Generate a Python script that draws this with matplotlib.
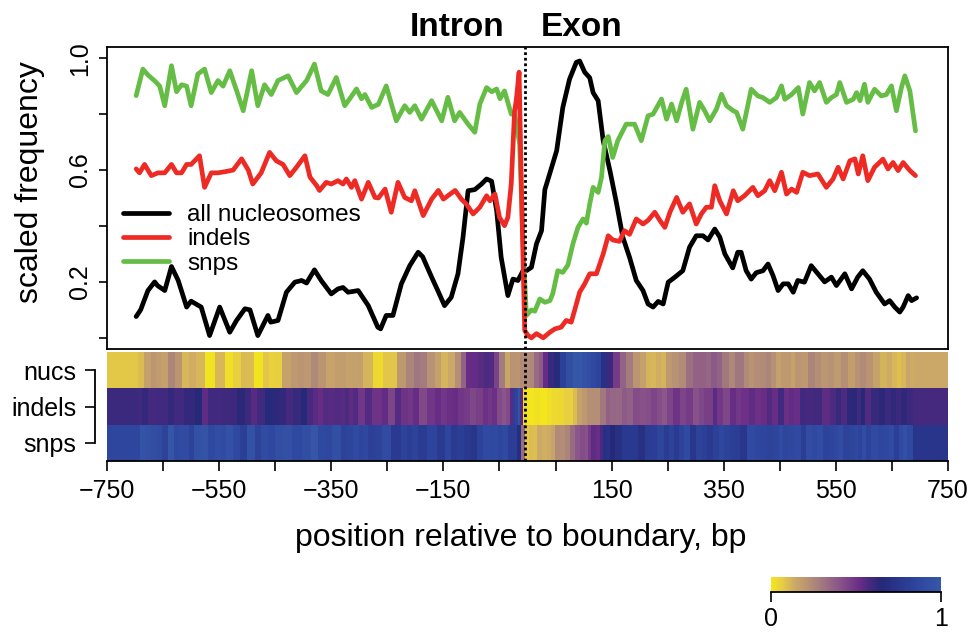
import numpy as np
import matplotlib
matplotlib.use('Agg')
import matplotlib.pyplot as plt
from matplotlib.colors import LinearSegmentedColormap

plt.rcParams['font.family'] = ['Liberation Sans', 'DejaVu Sans']

# ---------------- data ----------------
nuc_x = [-698, -690, -677, -665, -660, -647, -635, -623, -608, -600, -582, -567, -549, -531, -519, -504,
         -495, -481, -463, -458, -445, -430, -415, -403, -394, -380, -368, -350, -338, -329, -320, -302,
         -284, -267, -262, -252, -240, -225, -210, -195, -187, -171, -160, -148, -136, -124, -115, -106,
         -94, -82, -73, -64, -55, -47, -35, -26, -17, -8, -2, 7, 16, 25, 31, 43, 52, 63, 75, 87, 93, 102,
         111, 117, 126, 135, 147, 159, 170, 182, 194, 206, 215, 224, 233, 242, 251, 263, 277, 289, 301,
         313, 322, 334, 343, 352, 366, 375, 381, 390, 399, 408, 420, 429, 438, 447, 456, 465, 474, 482,
         494, 506, 518, 530, 542, 551, 566, 578, 589, 598, 610, 622, 637, 646, 655, 664, 670, 679, 685, 694]
nuc_y = [0.076, 0.10, 0.169, 0.20, 0.187, 0.169, 0.255, 0.205, 0.11, 0.131, 0.11, 0.008, 0.11, 0.02, 0.062,
         0.104, 0.10, 0.008, 0.08, 0.056, 0.062, 0.163, 0.199, 0.205, 0.196, 0.243, 0.205, 0.157, 0.175,
         0.18, 0.163, 0.169, 0.115, 0.038, 0.032, 0.08, 0.08, 0.193, 0.258, 0.306, 0.29, 0.217, 0.169,
         0.115, 0.145, 0.229, 0.36, 0.526, 0.53, 0.55, 0.568, 0.56, 0.455, 0.288, 0.151, 0.21, 0.205,
         0.24, 0.24, 0.252, 0.336, 0.383, 0.53, 0.61, 0.669, 0.824, 0.925, 0.985, 0.99, 0.95, 0.93,
         0.877, 0.848, 0.705, 0.598, 0.479, 0.36, 0.288, 0.205, 0.169, 0.121, 0.11, 0.13, 0.121, 0.199,
         0.217, 0.24, 0.324, 0.365, 0.365, 0.35, 0.389, 0.36, 0.30, 0.25, 0.306, 0.306, 0.24, 0.21, 0.233,
         0.24, 0.264, 0.222, 0.169, 0.193, 0.193, 0.163, 0.205, 0.199, 0.258, 0.229, 0.20, 0.217, 0.187,
         0.229, 0.175, 0.217, 0.24, 0.21, 0.163, 0.121, 0.133, 0.11, 0.092, 0.11, 0.151, 0.133, 0.143]

indel_x = [-698, -692, -683, -671, -659, -647, -635, -626, -617, -608, -600, -585, -576, -564, -552, -537,
           -525, -510, -498, -490, -475, -460, -448, -436, -424, -412, -397, -388, -376, -371, -359, -350,
           -338, -329, -323, -314, -308, -296, -284, -272, -266, -254, -243, -231, -219, -207, -201, -186,
           -171, -159, -150, -138, -129, -118, -109, -97, -85, -73, -67, -58, -50, -41, -35, -29, -23, -20,
           -15, -11, -5, 1, 7, 16, 28, 40, 49, 60, 69, 78, 84, 93, 102, 111, 123, 135, 144, 152, 164, 173,
           182, 194, 206, 215, 227, 236, 245, 254, 266, 277, 289, 301, 310, 319, 328, 334, 343, 355, 367,
           375, 387, 402, 411, 423, 432, 441, 453, 462, 471, 480, 491, 503, 518, 533, 545, 554, 563, 575,
           584, 590, 598, 607, 619, 634, 643, 652, 661, 670, 682, 692]
indel_y = [0.604, 0.59, 0.62, 0.58, 0.59, 0.59, 0.62, 0.59, 0.59, 0.62, 0.62, 0.651, 0.538, 0.59, 0.59,
           0.595, 0.60, 0.64, 0.60, 0.55, 0.59, 0.663, 0.633, 0.62, 0.58, 0.61, 0.651, 0.575, 0.544, 0.527,
           0.556, 0.55, 0.562, 0.55, 0.568, 0.538, 0.562, 0.496, 0.556, 0.502, 0.50, 0.532, 0.449, 0.556,
           0.502, 0.49, 0.526, 0.437, 0.496, 0.527, 0.496, 0.514, 0.527, 0.496, 0.478, 0.443, 0.467, 0.508,
           0.49, 0.514, 0.431, 0.401, 0.431, 0.55, 0.812, 0.85, 0.95, 0.55, 0.026, 0.008, 0.0, 0.015, 0.0,
           0.02, 0.032, 0.038, 0.062, 0.056, 0.098, 0.163, 0.193, 0.229, 0.229, 0.30, 0.365, 0.35, 0.345,
           0.383, 0.37, 0.425, 0.407, 0.42, 0.449, 0.42, 0.395, 0.449, 0.502, 0.449, 0.479, 0.407, 0.443,
           0.467, 0.467, 0.544, 0.49, 0.443, 0.526, 0.49, 0.508, 0.538, 0.508, 0.526, 0.562, 0.526, 0.592,
           0.514, 0.532, 0.52, 0.592, 0.58, 0.586, 0.538, 0.568, 0.61, 0.568, 0.633, 0.64, 0.586, 0.651,
           0.562, 0.61, 0.639, 0.604, 0.627, 0.598, 0.627, 0.598, 0.58]

snp_x = [-698, -686, -677, -665, -656, -647, -635, -626, -617, -608, -600, -588, -576, -564, -552, -543,
         -531, -519, -507, -492, -481, -469, -457, -445, -427, -412, -394, -380, -368, -356, -341, -326,
         -317, -305, -296, -290, -278, -266, -252, -234, -219, -210, -201, -189, -171, -153, -142, -130,
         -121, -106, -94, -85, -73, -64, -55, -49, -41, -29, -23, -14, -8, -2, 7, 13, 22, 31, 40, 45, 54,
         63, 72, 81, 90, 99, 105, 111, 117, 126, 132, 138, 144, 152, 161, 176, 191, 203, 215, 224, 239,
         248, 257, 266, 275, 283, 295, 307, 316, 325, 337, 346, 355, 367, 373, 384, 399, 411, 420, 432,
         444, 453, 459, 471, 483, 491, 503, 512, 521, 533, 542, 551, 557, 569, 581, 587, 593, 601, 607,
         619, 631, 640, 649, 658, 667, 673, 682, 692]
snp_y = [0.866, 0.961, 0.94, 0.919, 0.90, 0.83, 0.973, 0.88, 0.905, 0.90, 0.83, 0.943, 0.961, 0.877, 0.92,
         0.90, 0.955, 0.885, 0.812, 0.955, 0.83, 0.905, 0.87, 0.92, 0.937, 0.877, 0.92, 0.979, 0.883, 0.87,
         0.931, 0.83, 0.855, 0.89, 0.855, 0.87, 0.824, 0.835, 0.901, 0.776, 0.83, 0.806, 0.83, 0.782,
         0.848, 0.776, 0.86, 0.776, 0.806, 0.764, 0.735, 0.836, 0.895, 0.88, 0.89, 0.855, 0.883, 0.80,
         0.80, 0.693, 0.336, 0.08, 0.10, 0.095, 0.139, 0.127, 0.133, 0.157, 0.24, 0.234, 0.26, 0.336,
         0.395, 0.425, 0.41, 0.479, 0.538, 0.52, 0.574, 0.705, 0.72, 0.645, 0.705, 0.764, 0.764, 0.705,
         0.794, 0.80, 0.854, 0.782, 0.836, 0.776, 0.842, 0.889, 0.746, 0.842, 0.812, 0.776, 0.818, 0.871,
         0.83, 0.812, 0.806, 0.746, 0.889, 0.865, 0.859, 0.842, 0.859, 0.901, 0.853, 0.87, 0.895, 0.80,
         0.913, 0.883, 0.913, 0.842, 0.859, 0.87, 0.913, 0.842, 0.853, 0.877, 0.848, 0.907, 0.842, 0.889,
         0.865, 0.87, 0.901, 0.812, 0.895, 0.937, 0.883, 0.74]

series_labels = ['all nucleosomes', 'indels', 'snps']
row_labels = ['nucs', 'indels', 'snps']
x_ticks = list(range(-750, 751, 100))
x_ticklabels = ['−750', '', '−550', '', '−350', '', '−150', '', '', '150', '', '350', '', '550', '', '750']
y_ticks = [0.0, 0.2, 0.4, 0.6, 0.8, 1.0]
y_ticklabels = ['', '0.2', '', '0.6', '', '1.0']
boundary = -4

# ---------------- style ----------------
c_nuc, c_indel, c_snp = '#000000', '#EE2A24', '#66BD45'
cmap = LinearSegmentedColormap.from_list('ynb', [
    (0.00, '#F4E61C'), (0.06, '#E8CF40'), (0.14, '#CCA868'), (0.27, '#A9827C'),
    (0.40, '#8A5589'), (0.52, '#6A2D86'), (0.58, '#45297F'), (0.65, '#262878'),
    (0.76, '#29388E'), (0.88, '#2F48A0'), (1.00, '#3758A8')])

W, H = 973, 632
fig = plt.figure(figsize=(W / 100, H / 100), dpi=100)


def rect(x0, y0, x1, y1):
    return [x0 / W, 1 - y1 / H, (x1 - x0) / W, (y1 - y0) / H]


ax = fig.add_axes(rect(107, 47, 948, 349))
axh = fig.add_axes(rect(107, 352, 948, 461))
axc = fig.add_axes(rect(771, 577, 941, 592))

LW = 3.4
# ---------------- top panel ----------------
l1, = ax.plot(nuc_x, nuc_y, color=c_nuc, lw=LW, solid_joinstyle='round', solid_capstyle='round')
l3, = ax.plot(snp_x, snp_y, color=c_snp, lw=LW, solid_joinstyle='round', solid_capstyle='round')
l2, = ax.plot(indel_x, indel_y, color=c_indel, lw=LW, solid_joinstyle='round', solid_capstyle='round')
ax.axvline(boundary, color='k', lw=2.0, ls=(0, (1, 1)))
ax.set_xlim(-750, 750)
ax.set_ylim(-0.04, 1.04)
ax.set_xticks([])
ax.set_yticks(y_ticks)
ax.set_yticklabels(y_ticklabels, rotation=90, va='center', fontsize=18)
ax.tick_params(axis='y', length=6, width=1.2, pad=5)
for s in ax.spines.values():
    s.set_linewidth(1.3)
ax.legend([l1, l2, l3], series_labels, loc='upper left', bbox_to_anchor=(0.019, 0.48),
          frameon=False, fontsize=17.5, handlelength=1.9, handletextpad=0.75,
          labelspacing=0.1, borderpad=0, borderaxespad=0)

# ---------------- heatmap ----------------
axh.spines['top'].set_visible(False)
axh.spines['right'].set_visible(False)
axh.spines['left'].set_position(('outward', 9))
for i, (xs, vs) in enumerate([(nuc_x, nuc_y), (indel_x, indel_y), (snp_x, snp_y)]):
    xs = np.asarray(xs, float)
    edges = np.concatenate([[-750], (xs[:-1] + xs[1:]) / 2, [750]])
    axh.pcolormesh(edges, [i, i + 1], np.asarray(vs)[None, :], cmap=cmap, vmin=0, vmax=1,
                   shading='flat', rasterized=True)
axh.axvline(boundary, color='k', lw=2.0, ls=(0, (1, 1)))
axh.set_xlim(-750, 750)
axh.set_ylim(3, 0)
axh.set_yticks([0.5, 1.5, 2.5])
axh.set_yticklabels(row_labels)
axh.set_xticks(x_ticks)
axh.set_xticklabels(x_ticklabels)
axh.tick_params(length=7, width=1.2, pad=6, labelsize=18)
axh.spines['left'].set_bounds(0.5, 2.5)
axh.spines['left'].set_linewidth(1.3)
axh.spines['bottom'].set_linewidth(1.3)

# ---------------- colorbar ----------------
sm = plt.cm.ScalarMappable(cmap=cmap, norm=plt.Normalize(0, 1))
cb = fig.colorbar(sm, cax=axc, orientation='horizontal', ticks=[0, 1])
cb.outline.set_visible(False)
axc.spines['bottom'].set_visible(True)
axc.spines['bottom'].set_linewidth(1.3)
axc.set_xticklabels(['0', '1'])
axc.tick_params(length=7, width=1.2, pad=4, labelsize=18)

# ---------------- texts ----------------
fig.text(457 / W, 1 - 36 / H, 'Intron', fontsize=24, fontweight='bold', ha='center', va='baseline')
fig.text(582 / W, 1 - 36 / H, 'Exon', fontsize=24, fontweight='bold', ha='center', va='baseline')
fig.text(521 / W, 1 - 538 / H, 'position relative to boundary, bp', fontsize=23, ha='center', va='center')
fig.text(30 / W, 1 - 182 / H, 'scaled frequency', fontsize=23, rotation=90, ha='center', va='center')

fig.savefig('out.png', dpi=100)
